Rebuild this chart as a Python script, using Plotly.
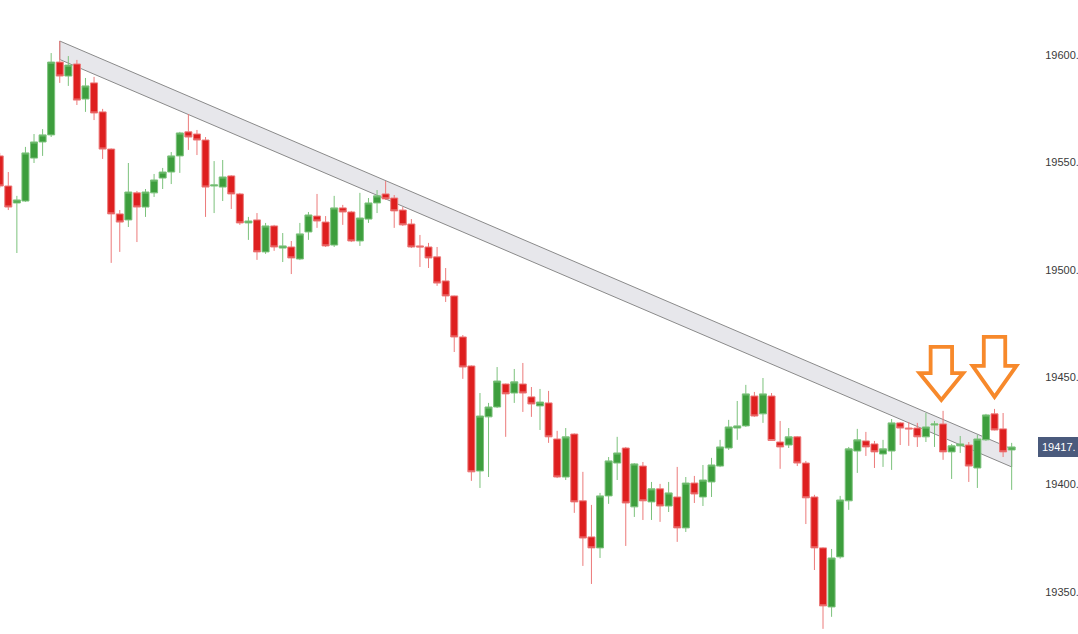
import plotly.graph_objects as go

# ---- data ----
candle_idx = list(range(119))
opens = [19553.0, 19539.0, 19531.1, 19532.0, 19552.0, 19559.5, 19562.8, 19596.7, 19590.2, 19595.8,
         19579.5, 19587.0, 19573.5, 19556.2, 19526.0, 19523.2, 19535.8, 19529.2, 19535.8, 19542.7,
         19545.5, 19553.0, 19564.2, 19563.2, 19560.4, 19539.0, 19538.5, 19543.7, 19535.3, 19521.8,
         19523.2, 19508.3, 19520.4, 19510.1, 19510.6, 19505.0, 19517.6, 19525.0, 19522.2, 19511.5,
         19528.8, 19526.9, 19513.4, 19523.6, 19531.1, 19535.3, 19533.4, 19527.8, 19521.3, 19511.1,
         19510.6, 19506.0, 19494.8, 19487.8, 19468.7, 19455.2, 19406.3, 19431.5, 19436.1, 19446.8,
         19442.6, 19446.8, 19440.8, 19436.6, 19438.0, 19421.2, 19403.5, 19423.5, 19392.4, 19375.6,
         19370.5, 19394.7, 19410.0, 19417.0, 19389.6, 19408.6, 19391.9, 19398.0, 19390.0, 19394.2,
         19379.8, 19400.7, 19394.2, 19401.2, 19408.6, 19417.0, 19426.3, 19427.3, 19441.2, 19432.9,
         19441.2, 19419.8, 19418.4, 19422.2, 19410.0, 19394.2, 19370.5, 19343.0, 19366.3, 19392.4,
         19415.6, 19420.3, 19418.9, 19414.2, 19415.6, 19428.7, 19426.3, 19426.3, 19422.2, 19427.7,
         19428.2, 19415.2, 19418.0, 19418.4, 19407.7, 19420.8, 19432.9, 19425.9, 19416.1]
highs = [19554.4, 19545.5, 19534.4, 19557.2, 19563.2, 19565.5, 19600.9, 19606.5, 19599.5, 19597.7,
         19589.3, 19589.8, 19574.9, 19556.5, 19527.8, 19549.7, 19536.7, 19537.6, 19544.6, 19547.4,
         19554.8, 19564.2, 19572.5, 19565.1, 19561.8, 19550.6, 19551.1, 19544.1, 19535.8, 19524.6,
         19526.4, 19521.8, 19520.9, 19517.1, 19513.4, 19521.8, 19526.9, 19535.3, 19525.0, 19534.4,
         19530.2, 19527.4, 19535.8, 19533.4, 19537.1, 19541.3, 19534.8, 19529.2, 19523.6, 19516.2,
         19512.5, 19510.6, 19500.8, 19488.0, 19469.6, 19455.5, 19442.6, 19438.0, 19454.7, 19447.0,
         19453.8, 19456.6, 19445.4, 19444.5, 19443.6, 19425.0, 19426.3, 19423.8, 19405.9, 19390.5,
         19396.1, 19412.8, 19422.2, 19417.5, 19410.0, 19410.5, 19401.2, 19400.3, 19401.2, 19408.2,
         19403.5, 19404.0, 19409.1, 19412.4, 19420.8, 19430.1, 19438.9, 19446.4, 19443.1, 19449.6,
         19442.6, 19429.6, 19426.3, 19422.6, 19411.0, 19395.2, 19370.8, 19370.0, 19394.7, 19417.5,
         19425.9, 19424.5, 19420.3, 19420.8, 19430.5, 19429.1, 19429.1, 19428.7, 19433.3, 19429.6,
         19434.3, 19418.9, 19422.6, 19419.8, 19423.1, 19432.9, 19435.2, 19433.3, 19419.4]
lows = [19538.1, 19527.8, 19507.8, 19531.6, 19549.7, 19553.0, 19561.8, 19587.0, 19585.6, 19576.7,
        19573.5, 19569.7, 19551.6, 19503.2, 19508.3, 19519.9, 19512.9, 19524.6, 19533.9, 19537.6,
        19539.9, 19545.1, 19555.8, 19553.4, 19524.6, 19526.4, 19532.0, 19528.3, 19520.9, 19513.9,
        19504.6, 19507.4, 19508.8, 19503.6, 19498.0, 19504.5, 19513.9, 19519.5, 19510.6, 19510.6,
        19520.9, 19512.9, 19511.1, 19521.8, 19526.4, 19532.5, 19519.5, 19520.4, 19510.1, 19501.3,
        19500.8, 19492.5, 19485.0, 19461.7, 19449.2, 19401.7, 19398.4, 19403.5, 19435.6, 19422.2,
        19438.0, 19433.8, 19431.5, 19425.4, 19419.4, 19403.0, 19402.1, 19386.8, 19362.1, 19353.7,
        19365.8, 19391.0, 19402.1, 19371.4, 19384.9, 19383.5, 19383.5, 19382.6, 19387.2, 19373.3,
        19377.9, 19391.4, 19390.0, 19394.2, 19408.1, 19416.1, 19420.8, 19426.8, 19431.5, 19428.7,
        19420.3, 19407.3, 19417.0, 19408.6, 19381.6, 19360.2, 19332.8, 19338.4, 19365.5, 19388.2,
        19405.4, 19413.3, 19407.7, 19408.2, 19406.8, 19418.4, 19418.0, 19417.5, 19419.8, 19417.5,
        19411.5, 19402.6, 19414.7, 19401.2, 19398.4, 19420.3, 19425.2, 19412.8, 19397.5]
closes = [19539.0, 19529.2, 19532.5, 19554.4, 19559.5, 19562.8, 19596.7, 19590.2, 19595.3, 19579.0,
          19585.6, 19573.0, 19556.2, 19526.0, 19522.2, 19536.2, 19529.2, 19536.2, 19541.8, 19545.5,
          19553.0, 19563.7, 19561.8, 19560.4, 19538.5, 19539.5, 19543.2, 19535.3, 19521.8, 19522.7,
          19508.3, 19520.4, 19510.6, 19511.1, 19505.5, 19516.7, 19525.5, 19522.7, 19511.1, 19528.8,
          19526.9, 19513.4, 19524.1, 19531.1, 19534.4, 19533.0, 19527.4, 19520.9, 19510.6, 19510.6,
          19505.5, 19493.8, 19487.8, 19468.7, 19454.7, 19405.9, 19431.9, 19436.1, 19448.2, 19442.2,
          19447.8, 19442.6, 19437.5, 19438.4, 19422.2, 19403.5, 19422.2, 19391.9, 19375.1, 19370.5,
          19394.7, 19411.0, 19414.7, 19391.4, 19409.6, 19392.4, 19398.0, 19390.0, 19396.1, 19379.8,
          19400.7, 19395.6, 19402.1, 19409.1, 19417.5, 19426.8, 19427.3, 19442.2, 19431.9, 19442.2,
          19420.5, 19417.5, 19422.2, 19410.0, 19393.8, 19370.5, 19343.5, 19365.8, 19392.8, 19416.6,
          19420.8, 19417.5, 19415.2, 19416.6, 19428.7, 19426.3, 19425.9, 19422.2, 19426.8, 19428.2,
          19415.2, 19418.0, 19418.9, 19408.6, 19421.2, 19432.4, 19425.4, 19415.2, 19417.5]

y_ticks = [19350, 19400, 19450, 19500, 19550, 19600]
y_tick_labels = ["19350.", "19400.", "19450.", "19500.", "19550.", "19600."]
last_price_label = "19417."
last_price = 19417.5

# falling channel (candle index, price)
channel_x = [7, 118]
channel_upper = [19606.5, 19416.6]
channel_lower = [19597.9, 19408.2]

# down arrows: centre candle index, top, neck, tip prices
arrow_x = [109.8, 116.0]
arrow_top = [19464.1, 19468.7]
arrow_neck = [19451.9, 19455.2]
arrow_tip = [19439.4, 19440.8]
arrow_shaft_half = 1.25
arrow_head_half = 2.55

# ---- figure ----
fig = go.Figure()
fig.add_trace(go.Candlestick(
    x=candle_idx, open=opens, high=highs, low=lows, close=closes,
    increasing=dict(line=dict(color="#7cc27c", width=1), fillcolor="#3d9e3d"),
    decreasing=dict(line=dict(color="#ec7a7a", width=1), fillcolor="#de1f1f"),
    showlegend=False, hoverinfo="skip",
))

shapes = []
# channel band
x0, x1 = channel_x
path = (f"M {x0},{channel_upper[0]} L {x1},{channel_upper[1]} "
        f"L {x1},{channel_lower[1]} L {x0},{channel_lower[0]} Z")
shapes.append(dict(type="path", path=path, xref="x", yref="y", layer="below",
                   fillcolor="#e7e7eb", line=dict(color="#8a8a8a", width=1)))

for ax, at, an, ap in zip(arrow_x, arrow_top, arrow_neck, arrow_tip):
    s, h = arrow_shaft_half, arrow_head_half
    p = (f"M {ax - s},{at} L {ax + s},{at} L {ax + s},{an} L {ax + h},{an} "
         f"L {ax},{ap} L {ax - h},{an} L {ax - s},{an} Z")
    shapes.append(dict(type="path", path=p, xref="x", yref="y", layer="above",
                       fillcolor="rgba(255,255,255,0)",
                       line=dict(color="#f7892b", width=3.8)))

label_font = dict(family="Liberation Sans, Arial, sans-serif", size=11, color="#3a3a3a")

fig.update_layout(
    width=1078, height=634,
    margin=dict(l=0, r=43, t=0, b=0, autoexpand=False),
    paper_bgcolor="white", plot_bgcolor="white",
    showlegend=False,
    boxgap=0.15, boxgroupgap=0.04,
    shapes=shapes,
    font=label_font,
    xaxis=dict(range=[0.033, 120.72], visible=False, rangeslider=dict(visible=False),
               showgrid=False, zeroline=False, automargin=False),
    yaxis=dict(range=[19330.4, 19625.6], side="right", tickvals=y_ticks, ticktext=y_tick_labels,
               showgrid=False, zeroline=False, showline=False, automargin=False,
               ticks="outside", ticklen=7, tickcolor="rgba(0,0,0,0)",
               tickfont=label_font),
    annotations=[dict(
        xref="paper", yref="y", x=1038.3 / 1035, y=last_price, xanchor="left", yanchor="middle",
        text=last_price_label, showarrow=False, align="left",
        bgcolor="#4a5a7c", borderpad=4, borderwidth=0,
        font=dict(family="Liberation Sans, Arial, sans-serif", size=11, color="white"),
    )],
)

fig.write_html("out.html", config={"displayModeBar": False},
               post_script="document.body.style.margin='0';document.body.style.overflow='hidden';")
